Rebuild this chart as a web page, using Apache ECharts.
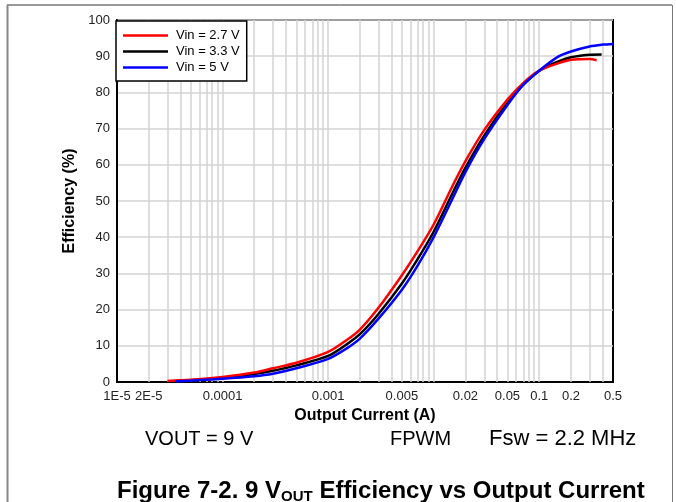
<!DOCTYPE html>
<html><head><meta charset="utf-8">
<script src="https://cdn.jsdelivr.net/npm/echarts@6/dist/echarts.min.js"></script>
<style>html,body{margin:0;padding:0;background:#fff}#c{width:676px;height:502px}</style>
</head><body><div id="c"></div>
<script>
// Output current (A) and efficiency (%) per input voltage
const current27 = [3e-5, 5e-5, 1e-4, 2e-4, 3e-4, 5e-4, 1e-3, 1.5e-3, 2e-3, 3e-3, 5e-3, 7e-3, 1e-2, 1.5e-2, 2e-2, 3e-2, 5e-2, 7e-2, 0.1, 0.15, 0.2, 0.3, 0.35];
const eff27     = [0.3, 0.6, 1.4, 2.6, 3.8, 5.3, 8.3, 11.6, 14.5, 20.5, 29.5, 36, 43.5, 54, 61, 69.5, 78, 82.5, 86, 88, 89, 89.2, 88.9];
const current33 = [3.6e-5, 5e-5, 1e-4, 2e-4, 3e-4, 5e-4, 1e-3, 1.5e-3, 2e-3, 3e-3, 5e-3, 7e-3, 1e-2, 1.5e-2, 2e-2, 3e-2, 5e-2, 7e-2, 0.1, 0.15, 0.2, 0.3, 0.39];
const eff33     = [0.3, 0.5, 1.1, 2.2, 3.1, 4.6, 7.2, 10.4, 13.2, 18.8, 27.2, 33.8, 41.5, 52, 59.2, 68, 77.2, 82, 86, 88.5, 89.7, 90.4, 90.5];
const current5  = [3.6e-5, 5e-5, 1e-4, 2e-4, 3e-4, 5e-4, 1e-3, 1.5e-3, 2e-3, 3e-3, 5e-3, 7e-3, 1e-2, 1.5e-2, 2e-2, 3e-2, 5e-2, 7e-2, 0.1, 0.15, 0.2, 0.3, 0.4, 0.5];
const eff5      = [0.2, 0.4, 0.9, 1.6, 2.3, 3.8, 6.4, 9.3, 12, 17.5, 25.5, 32, 40, 50.5, 58, 67, 76.5, 82, 86, 89.8, 91.3, 92.7, 93.2, 93.4];
const seriesNames = ['Vin = 2.7 V', 'Vin = 3.3 V', 'Vin = 5 V'];

const xTickValues = [1e-5, 2e-5, 1e-4, 1e-3, 5e-3, 0.02, 0.05, 0.1, 0.2, 0.5];
const xTickLabels = ['1E-5', '2E-5', '0.0001', '0.001', '0.005', '0.02', '0.05', '0.1', '0.2', '0.5'];
const xMin = 1e-5, xMax = 0.5;
const yMin = 0, yMax = 100, yStep = 10;

const lg = Math.log10;
const gridX = [];
for (let d = 1e-5; d < 1; d *= 10) {
  for (let k = 1; k <= 9; k++) {
    const v = k * d;
    if (v > xMin * 1.0001 && v <= xMax * 1.0001) gridX.push(lg(v));
  }
}
function pts(xs, ys) { return xs.map((x, i) => [lg(x), ys[i]]); }

const chart = echarts.init(document.getElementById('c'));
const FONT = 'Liberation Sans, Arial, sans-serif';
chart.setOption({
  animation: false,
  textStyle: { fontFamily: FONT },
  grid: { left: 117, top: 20, width: 496, height: 362, show: true, borderColor: '#000', borderWidth: 2, backgroundColor: '#fff' },
  legend: {
    data: seriesNames, orient: 'vertical', left: 116, top: 21, z: 10,
    backgroundColor: '#fff', borderColor: '#000', borderWidth: 1.5,
    padding: [7, 7, 6, 7], itemWidth: 45, itemHeight: 2.5, itemGap: 1, icon: 'rect',
    textStyle: { fontSize: 13, color: '#000', lineHeight: 15, fontFamily: FONT, padding: [0, 0, 0, 3] }
  },
  xAxis: {
    type: 'value', min: lg(xMin), max: lg(xMax),
    name: 'Output Current (A)', nameLocation: 'middle', nameGap: 23,
    nameTextStyle: { fontWeight: 'bold', fontSize: 16, color: '#000', fontFamily: FONT },
    axisLine: { show: true, lineStyle: { color: '#000', width: 2 } },
    axisTick: { show: false },
    splitLine: { show: false },
    axisLabel: {
      customValues: xTickValues.map(lg), fontSize: 13, color: '#222', margin: 8, fontFamily: FONT,
      formatter: function (v) {
        let best = 0, bd = 1e9;
        xTickValues.forEach((t, i) => { const d = Math.abs(lg(t) - v); if (d < bd) { bd = d; best = i; } });
        return xTickLabels[best];
      }
    }
  },
  yAxis: {
    type: 'value', min: yMin, max: yMax, interval: yStep,
    name: 'Efficiency (%)', nameLocation: 'middle', nameGap: 37, nameRotate: 90,
    nameTextStyle: { fontWeight: 'bold', fontSize: 16, color: '#000', fontFamily: FONT },
    axisLine: { show: true, lineStyle: { color: '#000', width: 2 } },
    axisTick: { show: false },
    splitLine: { show: true, lineStyle: { color: '#d3d3d3', width: 1.5 } },
    axisLabel: { fontSize: 13, color: '#222', margin: 7, fontFamily: FONT }
  },
  series: [
    {
      type: 'line', name: '_grid', data: [], silent: true, z: 1,
      markLine: {
        silent: true, symbol: 'none', label: { show: false }, z: 1,
        lineStyle: { color: '#d3d3d3', width: 1.5, type: 'solid' },
        emphasis: { disabled: true },
        data: gridX.map(v => ({ xAxis: v }))
      }
    },
    { type: 'line', name: seriesNames[0], data: pts(current27, eff27), smooth: 0.3, symbol: 'none', z: 4, lineStyle: { color: '#ff0000', width: 2.5 }, itemStyle: { color: '#ff0000' } },
    { type: 'line', name: seriesNames[1], data: pts(current33, eff33), smooth: 0.3, symbol: 'none', z: 3, lineStyle: { color: '#000000', width: 2.5 }, itemStyle: { color: '#000000' } },
    { type: 'line', name: seriesNames[2], data: pts(current5, eff5), smooth: 0.3, symbol: 'none', z: 5, lineStyle: { color: '#0000ff', width: 2.5 }, itemStyle: { color: '#0000ff' } }
  ],
  graphic: [
    { type: 'line', shape: { x1: 7, y1: 5, x2: 672, y2: 5 }, style: { stroke: '#333', lineWidth: 1 } },
    { type: 'line', shape: { x1: 7.5, y1: 5, x2: 7.5, y2: 502 }, style: { stroke: '#888', lineWidth: 2 } },
    { type: 'line', shape: { x1: 672.5, y1: 5, x2: 672.5, y2: 502 }, style: { stroke: '#777', lineWidth: 1 } },
    { type: 'text', x: 145, y: 449, style: { text: 'VOUT = 9 V', font: '20px ' + FONT, fill: '#000', verticalAlign: 'bottom' } },
    { type: 'text', x: 390, y: 449, style: { text: 'FPWM', font: '20px ' + FONT, fill: '#000', verticalAlign: 'bottom' } },
    { type: 'text', x: 489, y: 450, style: { text: 'Fsw = 2.2 MHz', font: '22px ' + FONT, fill: '#000', verticalAlign: 'bottom' } },
    { type: 'text', left: 117, top: 479, style: {
        text: '{b|Figure 7-2. 9 V}{s|OUT}{b| Efficiency vs Output Current}',
        rich: { b: { font: 'bold 24px ' + FONT, fill: '#000' }, s: { font: 'bold 15px ' + FONT, fill: '#000', padding: [11, 0, 0, 0] } }
    } }
  ]
});
</script>
</body></html>
